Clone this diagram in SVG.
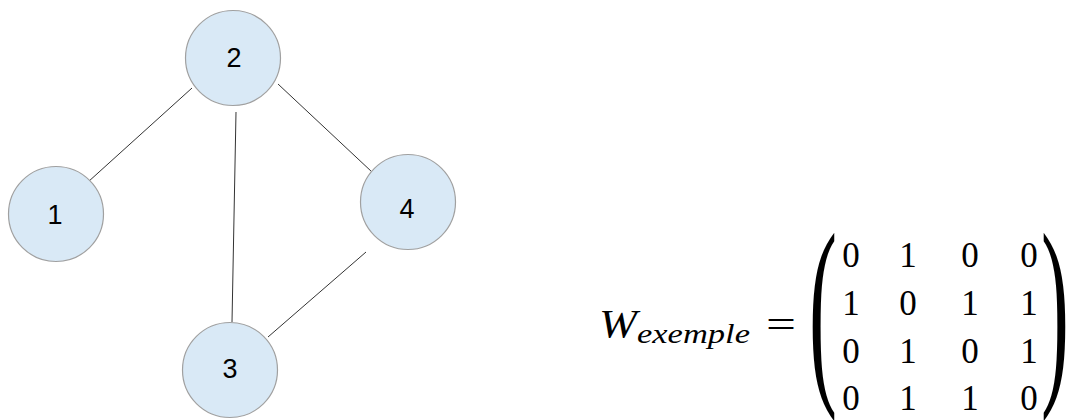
<svg xmlns="http://www.w3.org/2000/svg" width="1071" height="420" viewBox="0 0 1071 420">
<style>
.node circle{fill:#d9e9f6;stroke:#a0a0a0;stroke-width:1.2}
.node text{font-family:"Liberation Sans",Arial,sans-serif;font-size:27px;fill:#000;text-anchor:middle}
.edges line{stroke:#333;stroke-width:1}
.m{font-family:"Liberation Serif","Times New Roman",serif;font-size:35px;fill:#000;text-anchor:middle}
.mi{font-family:"Liberation Serif","Times New Roman",serif;font-style:italic;fill:#000}
.par{font-family:"Liberation Serif","Times New Roman",serif;font-size:84px;fill:#000}
</style>
<rect width="1071" height="420" fill="#fff"/>
<g class="edges">
<line x1="88" y1="182" x2="192" y2="88"/>
<line x1="236" y1="112" x2="232" y2="322"/>
<line x1="278" y1="84" x2="372" y2="172"/>
<line x1="268" y1="337" x2="366" y2="252"/>
</g>
<g id="node1" class="node"><circle cx="56" cy="214" r="47.5"/><text x="55" y="224">1</text></g>
<g id="node2" class="node"><circle cx="233" cy="58" r="47.5"/><text x="234" y="67">2</text></g>
<g id="node3" class="node"><circle cx="230" cy="370" r="47.5"/><text x="230" y="378">3</text></g>
<g id="node4" class="node"><circle cx="408" cy="202" r="47.5"/><text x="407" y="218">4</text></g>
<g id="matrix">
<text class="mi" x="599" y="337" font-size="39" textLength="38" lengthAdjust="spacingAndGlyphs">W</text>
<text class="mi" x="637" y="343" font-size="27" textLength="113" lengthAdjust="spacingAndGlyphs">exemple</text>
<text class="mi" x="766" y="337" style="font-style:normal" font-size="37" textLength="30" lengthAdjust="spacingAndGlyphs">=</text>
<text class="par" transform="translate(809,376.6) scale(1,2.47)">(</text>
<text class="par" transform="translate(1041,376.6) scale(1,2.47)">)</text>
<text class="m" x="851" y="267">0</text><text class="m" x="908" y="267">1</text><text class="m" x="970" y="267">0</text><text class="m" x="1029" y="267">0</text>
<text class="m" x="851" y="315">1</text><text class="m" x="908" y="315">0</text><text class="m" x="970" y="315">1</text><text class="m" x="1029" y="315">1</text>
<text class="m" x="851" y="363">0</text><text class="m" x="908" y="363">1</text><text class="m" x="970" y="363">0</text><text class="m" x="1029" y="363">1</text>
<text class="m" x="851" y="410">0</text><text class="m" x="908" y="410">1</text><text class="m" x="970" y="410">1</text><text class="m" x="1029" y="410">0</text>
</g>
</svg>
